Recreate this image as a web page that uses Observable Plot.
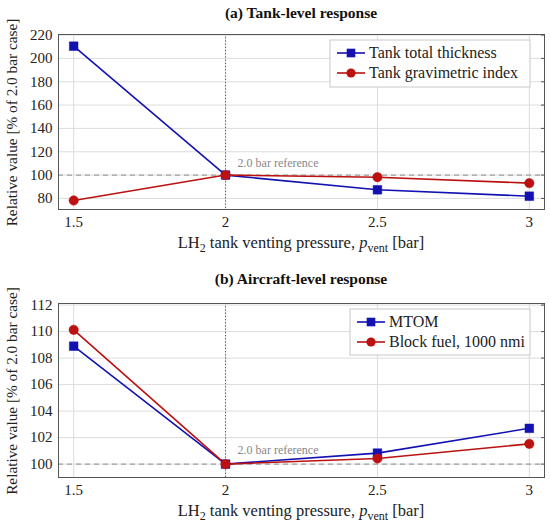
<!DOCTYPE html>
<html><head><meta charset="utf-8">
<script src="https://cdn.jsdelivr.net/npm/d3@7"></script>
<script src="https://cdn.jsdelivr.net/npm/@observablehq/plot@0.6"></script>
<style>
body{margin:0;background:#fff;font-family:"Liberation Serif",serif;}
.title{font-family:"Liberation Serif",serif;font-weight:bold;font-size:15.5px;text-align:center;padding-left:58px;padding-right:6px;height:26px;line-height:26px;color:#111;}
svg{display:block;overflow:visible;}
</style></head><body>
<div id="c"></div>
<script>
// Shared x values: LH2 tank venting pressure [bar]
const pressures = [1.5, 2, 2.5, 3];
// (a) Tank-level response, % of 2.0 bar case
const tankThickness = [210.5, 100, 87.4, 81.9];
const tankGravIndex = [78.2, 100, 98.2, 93.1];
// (b) Aircraft-level response, % of 2.0 bar case
const mtom = [108.9, 100, 100.83, 102.7];
const blockFuel = [110.13, 100, 100.42, 101.53];
// Tick labels
const yTicksA = [80, 100, 120, 140, 160, 180, 200, 220];
const yTicksB = [100, 102, 104, 106, 108, 110, 112];
const titleA = "(a) Tank-level response";
const titleB = "(b) Aircraft-level response";
const legendA = ["Tank total thickness", "Tank gravimetric index"];
const legendB = ["MTOM", "Block fuel, 1000 nmi"];
const refLabel = "2.0 bar reference";
const yLabel = "Relative value [% of 2.0 bar case]";

const BLUE = "#1212b2", RED = "#bb1111";
const FONT = "Liberation Serif";

function panel({title, s1, s2, names, yDomain, yTicks, height, marginTop, marginBottom, refDy, legend}) {
  const c = document.getElementById("c");
  const t = document.createElement("div");
  t.className = "title"; t.textContent = title; c.appendChild(t);
  const d1 = pressures.map((x, i) => ({x, y: s1[i]}));
  const d2 = pressures.map((x, i) => ({x, y: s2[i]}));
  const chart = Plot.plot({
    width: 550, height, marginTop, marginBottom, marginLeft: 58, marginRight: 6,
    style: {fontFamily: FONT, fontSize: "15px", color: "#222", background: "#fff", overflow: "visible"},
    x: {domain: [1.45, 3.05]},
    y: {domain: yDomain},
    marks: [
      Plot.gridX(pressures, {stroke: "#dcdcdc", strokeOpacity: 1}),
      Plot.gridY(yTicks, {stroke: "#dcdcdc", strokeOpacity: 1}),
      Plot.ruleY([100], {stroke: "#8a8a8a", strokeDasharray: "5,4", strokeWidth: 1}),
      Plot.ruleX([2], {stroke: "#555", strokeDasharray: "1.2,2", strokeWidth: 1}),
      Plot.text([refLabel], {x: () => 2, y: () => 100, text: d => d, dx: 12, dy: refDy, textAnchor: "start", fill: "#888", fontSize: 12}),
      Plot.line(d1, {x: "x", y: "y", stroke: BLUE, strokeWidth: 1.6}),
      Plot.line(d2, {x: "x", y: "y", stroke: RED, strokeWidth: 1.6}),
      Plot.dot(d1, {x: "x", y: "y", symbol: "square", r: 4.9, fill: BLUE, stroke: BLUE, strokeWidth: 0.5}),
      Plot.dot(d2, {x: "x", y: "y", symbol: "circle", r: 4.7, fill: RED, stroke: RED, strokeWidth: 0.5}),
      Plot.axisX({ticks: pressures, tickSize: 0, tickPadding: 7, tickFormat: d => String(d), label: null}),
      Plot.axisY({ticks: yTicks, tickSize: 0, tickPadding: 6, label: null}),
      Plot.axisY({anchor: "right", ticks: yTicks, tickSize: -4, tickFormat: () => "", label: null, stroke: "#555"}),
      Plot.frame({stroke: "#555", strokeWidth: 1})
    ]
  });
  c.appendChild(chart);
  const svg = d3.select(chart);
  const fx = (58 + 544) / 2;
  // y label
  const fy = (marginTop + (height - marginBottom)) / 2 + 1;
  svg.append("text").attr("transform", `translate(16.5,${fy}) rotate(-90)`)
    .attr("text-anchor", "middle").attr("font-family", FONT).attr("font-size", 15.3).attr("fill", "#222").text(yLabel);
  // x label
  const xl = svg.append("text").attr("x", fx).attr("y", height - marginBottom + 39)
    .attr("text-anchor", "middle").attr("font-family", FONT).attr("font-size", 16.5).attr("fill", "#222");
  xl.append("tspan").text("LH");
  xl.append("tspan").attr("font-size", 12).attr("dy", 4).text("2");
  xl.append("tspan").attr("dy", -4).text(" tank venting pressure, ");
  xl.append("tspan").attr("font-style", "italic").text("p");
  xl.append("tspan").attr("font-size", 12).attr("dy", 4).text("vent");
  xl.append("tspan").attr("dy", -4).text(" [bar]");
  // legend
  const g = svg.append("g");
  g.append("rect").attr("x", legend.x).attr("y", legend.y).attr("width", legend.w).attr("height", legend.h)
    .attr("fill", "#fff").attr("stroke", "#c8c8c8");
  [[BLUE, "square"], [RED, "circle"]].forEach(([col, sym], i) => {
    const cy = legend.y + 13 + i * 20;
    const lx = legend.x + legend.lx;
    g.append("line").attr("x1", lx).attr("x2", lx + 28).attr("y1", cy).attr("y2", cy).attr("stroke", col).attr("stroke-width", 1.6);
    if (sym === "square") g.append("rect").attr("x", lx + 14 - 4.3).attr("y", cy - 4.3).attr("width", 8.6).attr("height", 8.6).attr("fill", col);
    else g.append("circle").attr("cx", lx + 14).attr("cy", cy).attr("r", 4.6).attr("fill", col);
    g.append("text").attr("x", lx + 32).attr("y", cy + 5).attr("text-anchor", "start").attr("font-family", FONT)
      .attr("font-size", 16).attr("fill", "#222").text(names[i]);
  });
}

panel({title: titleA, s1: tankThickness, s2: tankGravIndex, names: legendA,
  yDomain: [70.5, 220.5], yTicks: yTicksA, height: 240, marginTop: 8, marginBottom: 57, refDy: -12,
  legend: {x: 330, y: 14, w: 200, h: 47, lx: 7}});
panel({title: titleB, s1: mtom, s2: blockFuel, names: legendB,
  yDomain: [98.99, 112.12], yTicks: yTicksB, height: 233, marginTop: 11, marginBottom: 48, refDy: -14,
  legend: {x: 350, y: 17, w: 180, h: 46, lx: 7}});
</script>
</body></html>
